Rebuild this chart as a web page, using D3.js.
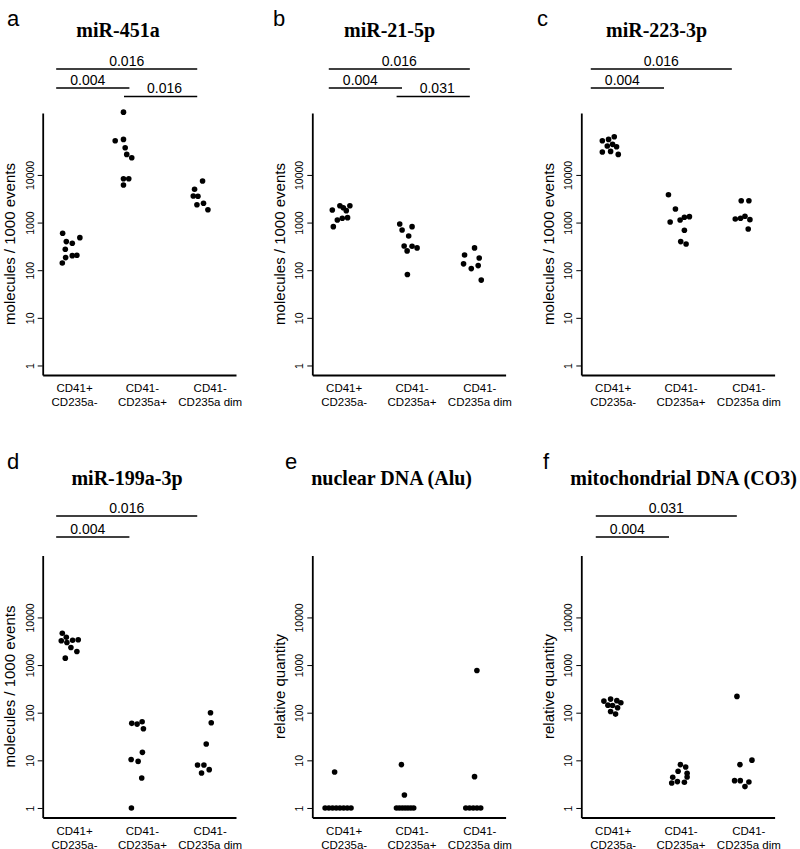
<!DOCTYPE html>
<html><head><meta charset="utf-8">
<script src="https://cdn.jsdelivr.net/npm/d3@7"></script>
<style>body{margin:0;background:#fff}</style>
</head><body>
<svg id="chart" width="800" height="849"></svg>
<script>
// ---------- data ----------
const groupsLine1 = ["CD41+", "CD41-", "CD41-"];
const groupsLine2 = ["CD235a-", "CD235a+", "CD235a dim"];
const yTickValues = [1, 10, 100, 1000, 10000];
const panelLetters = ["a", "b", "c", "d", "e", "f"];
const panelTitles = ["miR-451a", "miR-21-5p", "miR-223-3p", "miR-199a-3p", "nuclear DNA (Alu)", "mitochondrial DNA (CO3)"];
const yAxisTitles = ["molecules / 1000 events", "molecules / 1000 events", "molecules / 1000 events",
                     "molecules / 1000 events", "relative quantity", "relative quantity"];

// x = group position incl. jitter (1,2,3), v = value
const a_x = [0.824,0.878,0.966,1.078,0.863,0.868,0.966,1.034,0.819, 1.721,1.599,1.721,1.746,1.769,1.843,1.721,1.799,1.721, 2.887,2.769,2.750,2.819,2.804,2.901,2.966];
const a_v = [597,398,368,482,276,184,202,206,142, 208000,52100,55700,37200,27000,22900,8320,8320,6140, 7450,4990,3610,3560,2370,2540,1860];
const b_x = [0.825,0.937,0.987,1.031,1.084,0.899,0.972,1.050,0.840, 1.819,1.854,2.001,1.951,1.884,2.001,2.075,1.928,1.932, 2.922,2.775,2.991,2.760,2.976,2.874,3.021];
const b_v = [1837,2261,2051,1777,2261,1135,1231,1268,820, 935,700,820,524,323,318,294,254,81, 294,209,181,136,125,108,62];
const c_x = [0.840,0.932,1.016,0.913,0.991,1.050,0.840,0.962,1.075, 1.815,1.918,1.840,1.987,2.050,2.124,2.050,1.996,2.075, 2.888,3.001,2.800,2.878,2.943,3.016,2.991];
const c_v = [52100,55700,63200,40400,43800,39000,30200,31200,27000, 3846,1928,1030,1135,1291,1330,690,398,356, 2877,2877,1190,1231,1355,1150,735];
const d_x = [0.819,0.878,0.804,0.887,0.971,1.054,0.946,1.034,0.863, 1.843,1.922,1.996,2.015,2.000,1.834,1.937,1.990,1.838, 3.004,3.015,2.941,2.813,2.907,2.872,2.985];
const d_v = [4670,3846,3230,2977,3325,3390,2340,1928,1396, 59.7,57.7,64.8,46.2,14.7,10.4,9.5,4.26,1, 100,61.7,22,7.97,7.97,5.42,6.38];
const e_x = [0.719,0.774,0.828,0.883,0.937,0.992,1.046,1.101,0.859, 1.771,1.813,1.856,1.898,1.940,1.983,2.025,1.844,1.888, 2.793,2.848,2.903,2.958,3.013,2.957,2.922];
const e_v = [1,1,1,1,1,1,1,1,5.7, 1,1,1,1,1,1,1,8.13,1.87, 1,1,1,1,1,771,4.55];
const f_x = [0.863,0.962,1.054,1.113,0.922,0.991,1.065,0.962,1.035, 1.991,2.069,1.957,2.090,2.090,1.878,1.947,1.863,2.050, 2.825,2.869,3.046,2.790,2.874,3.001,2.943];
const f_v = [175,193,179,162,144,142,127,106,93.5, 8.13,7.24,5.88,5.34,4.46,4.40,3.58,3.34,3.46, 220,8.13,10.1,3.75,3.75,3.51,2.81];

// significance brackets: group pairs and p-values
const a_pairs = [[1,3],[1,2],[2,3]], a_p = ["0.016","0.004","0.016"];
const b_pairs = [[1,3],[1,2],[2,3]], b_p = ["0.016","0.004","0.031"];
const c_pairs = [[1,3],[1,2]],       c_p = ["0.016","0.004"];
const d_pairs = [[1,3],[1,2]],       d_p = ["0.016","0.004"];
const e_pairs = [],                  e_p = [];
const f_pairs = [[1,3],[1,2]],       f_p = ["0.031","0.004"];

const xs = [a_x,b_x,c_x,d_x,e_x,f_x];
const vs = [a_v,b_v,c_v,d_v,e_v,f_v];
const pairs = [a_pairs,b_pairs,c_pairs,d_pairs,e_pairs,f_pairs];
const pvals = [a_p,b_p,c_p,d_p,e_p,f_p];

// ---------- layout ----------
const colX = [0, 269.6, 538.6];
const rowY = [0, 442.5];
const letterPos = [[7,26],[273,26],[537,26],[7,469],[285,469],[543,469]];
const titleX = [118, 120, 118, 127, 122, 145];
const titleY = [37.3, 42];           // per row, panel-local
const bracketY = [[69, 88, 96.5], [73.5, 94.5, 103]];
const bracketShift = [0, 3, -4, 0, 0, 1];

const svg = d3.select("#chart");
const font = "Arial, 'Liberation Sans', sans-serif";

const x = d3.scaleLinear().domain([0.53, 3.38]).range([42.7, 236]);
const y = d3.scaleLog().domain([Math.pow(10,-0.2), Math.pow(10,5.3)]).range([375, 113]);

for (let i = 0; i < 6; i++) {
  const row = Math.floor(i / 3), col = i % 3;
  const ox = colX[col], oy = rowY[row];
  svg.append("text").attr("x", letterPos[i][0]).attr("y", letterPos[i][1])
    .attr("font-family", font).attr("font-size", 22).attr("fill", "#000").text(panelLetters[i]);

  const g = svg.append("g").attr("transform", `translate(${ox},${oy})`);

  g.append("text").attr("x", titleX[i]).attr("y", titleY[row])
    .attr("text-anchor", "middle").attr("font-family", "'Liberation Serif','Times New Roman',serif")
    .attr("font-weight", "bold").attr("font-size", 20).text(panelTitles[i]);

  pairs[i].forEach((pr, k) => {
    const lvl = (pr[0] === 1 && pr[1] === 3) ? 0 : (pr[0] === 1 ? 1 : 2);
    const ly = bracketY[row][lvl];
    const x1 = x(pr[0]) - 18.4 + bracketShift[i];
    const x2 = x(pr[1]) - 13 + bracketShift[i];
    g.append("line").attr("x1", x1).attr("x2", x2).attr("y1", ly).attr("y2", ly)
      .attr("stroke", "#000").attr("stroke-width", 1.6);
    const tShift = lvl === 0 ? 0 : (lvl === 1 ? -5 : 4);
    g.append("text").attr("x", (x1 + x2) / 2 + tShift).attr("y", ly - 3.5)
      .attr("text-anchor", "middle").attr("font-family", font).attr("font-size", 14)
      .text(pvals[i][k]);
  });

  const ya = g.append("g").attr("transform", `translate(${x.range()[0]},0)`)
    .call(d3.axisLeft(y).tickValues(yTickValues).tickFormat(d3.format("d")).tickSize(5).tickSizeOuter(0));
  ya.select(".domain").attr("stroke-width", 1.8);
  ya.selectAll(".tick line").attr("stroke-width", 1);
  ya.selectAll(".tick text").attr("x", null).attr("dy", null)
    .attr("transform", "translate(-9,0) rotate(-90)")
    .attr("text-anchor", "middle").attr("font-family", font).attr("font-size", 10.5).attr("fill", "#000");

  const xa = g.append("g").attr("transform", `translate(0,${y.range()[0]})`)
    .call(d3.axisBottom(x).tickValues([]).tickSizeOuter(0));
  xa.select(".domain").attr("stroke-width", 1.8);

  [1,2,3].forEach((c, k) => {
    g.append("text").attr("x", x(c)).attr("y", 392.3).attr("text-anchor", "middle")
      .attr("font-family", font).attr("font-size", 11.5).text(groupsLine1[k]);
    g.append("text").attr("x", x(c)).attr("y", 406).attr("text-anchor", "middle")
      .attr("font-family", font).attr("font-size", 11.5).text(groupsLine2[k]);
  });

  g.append("text").attr("transform", `translate(15,${(y.range()[0] + y.range()[1]) / 2}) rotate(-90)`)
    .attr("text-anchor", "middle").attr("font-family", font).attr("font-size", 15).text(yAxisTitles[i]);

  g.selectAll("circle.pt").data(d3.range(xs[i].length)).enter().append("circle")
    .attr("class", "pt")
    .attr("cx", j => x(xs[i][j])).attr("cy", j => y(vs[i][j])).attr("r", 2.8).attr("fill", "#000");
}
</script>
</body></html>
